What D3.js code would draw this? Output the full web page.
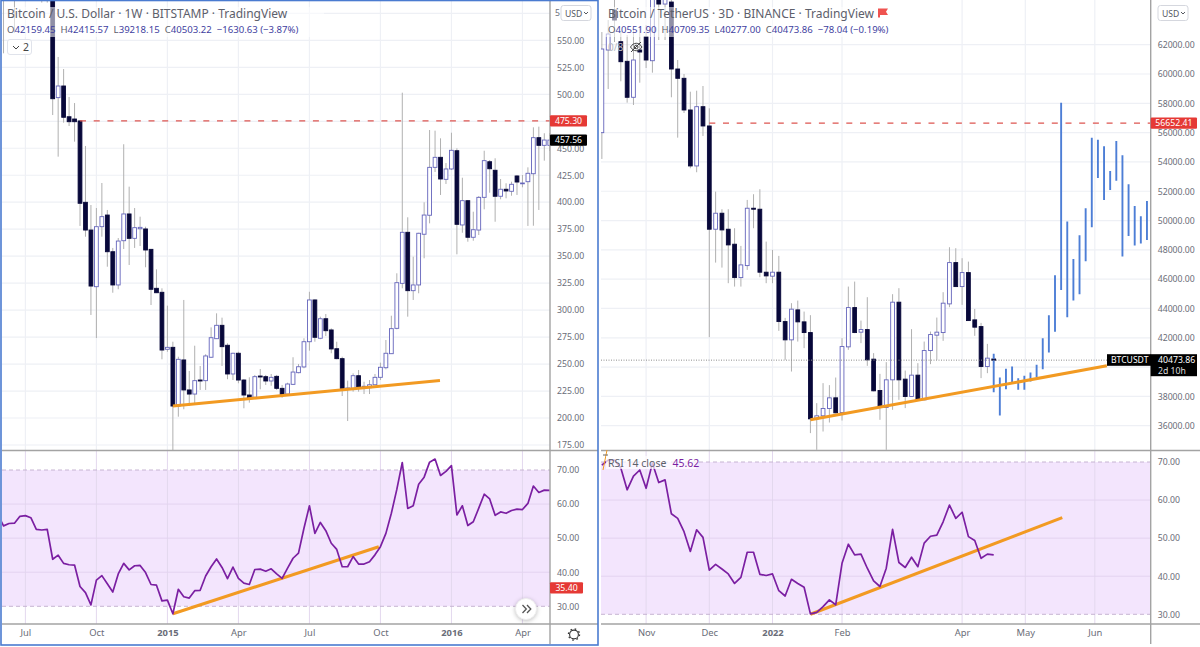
<!DOCTYPE html>
<html>
<head>
<meta charset="utf-8">
<script src="https://cdnjs.cloudflare.com/ajax/libs/d3/7.8.5/d3.min.js"></script>
<style>
  html, body { margin: 0; padding: 0; background: #fff; }
  svg { display: block; }
  text { font-family: "Noto Sans", sans-serif; }
</style>
</head>
<body>
<svg id="chart" width="1200" height="647"></svg>
<script>
// left chart, BTC/USD weekly, bar index 0 is the first candle under the 2014 high
const leftFirstBar = -10;
const leftOpen = [630,600,635,600,640,645,650,640,620,610,
  610,496.9,507.7,479.2,477.1,475.3,399.9,374.2,321.7,377.3,
  388.1,354.1,323.3,364.3,389.1,366.5,375.4,375.2,356.3,320.2,
  316.5,263.7,265.5,211.1,253.8,226,222.2,235.2,234.6,256.3,
  273.5,285.9,267.4,240.8,260,235.2,221.3,219.2,238.9,238.3,
  234.3,238.6,227.5,222.2,231.2,242,247.3,270.7,309.4,273.9,
  292,281.6,264.2,255,227.3,227.5,239.2,228.7,228.1,230.8,
  237.7,246.6,259.6,283.1,324.8,372.1,318,323.3,370.3,387.9,
  432.3,441.6,421.2,430.8,447.7,378.9,401.4,367.5,374.2,404.5,
  437.5,429.6,405.5,412,410.1,424.3,417.4,419,426.4,459.8,
  452.7,452.7];
const leftClose = [620,620,625,620,630,635,640,630,605,600,
  495.9,507.7,478.7,474.6,474.6,399,374.2,322.3,377.3,386.6,
  354.1,323.3,364,389.1,366.5,376.4,376.7,355.7,319.3,316.1,
  263,265.5,211.1,254.4,226,222.2,234.6,234.3,257.5,274.4,
  285.9,266.1,240.8,260,235.2,221.3,218.8,238.3,238,234.3,
  237.7,227.5,222,231.5,242.6,247.5,270.7,309.4,274.8,292,
  280.9,264,255,227.5,227.8,239.2,228.1,229.4,230.8,237.7,
  247,260,282.8,325.4,372.1,318,323.3,371.2,388.1,432.3,
  441.6,421.5,430.8,448.1,379.5,401.4,367.5,374.5,404.5,438.5,
  431,405.5,412,410.4,416.6,418.7,417.8,426.8,459.8,452.7,
  457.6,457.56];
const leftHigh = [660,660,660,660,660,660,660,660,660,660,
  660,534.6,523.4,497.5,491.9,476,452.1,397.4,394.6,417.8,
  392.8,357.6,366.8,453.7,414.4,394.6,386.6,377.3,356.6,337.8,
  320.2,304.1,270.7,256.8,309.4,243.6,267,248.2,259.1,284,
  297,293,269.2,260.5,261.4,236.1,237.7,239.9,245.4,239.9,
  240.8,239.9,230.6,232.7,256.3,250,273.9,317,310,293.9,
  296.4,283.1,270.7,256.8,234.6,241.4,244.5,233.6,235.2,240.8,
  251.3,272.3,294.8,334.1,501.5,386,349.5,371.7,399.9,466.9,
  466.3,459.2,436.3,464.4,450,422.7,402,391.2,405.7,447.7,
  439.1,440.7,421.5,417.5,419,425.2,425.2,432.3,469.4,470,
  463.9,464];
const leftLow = [610,538,605,557,615,620,625,610,585,585,
  480.8,442.2,473.7,470.6,456.1,378,368,295.5,274.1,368,
  340.2,316.1,319.3,356.6,341.8,357.6,359.4,339.7,304.7,315.8,
  254.4,261.4,170.3,201.2,208.1,211.1,213.9,226,226,255.6,
  273.2,248.2,235.9,235.2,232.2,209,214.2,218.5,226.6,230.6,
  229.9,226,218.8,220.4,230.6,241.4,246.1,262.4,270.7,273,
  276,260,254.4,220.4,197.2,224.4,224.4,222.2,222.2,230.6,
  235.2,245.1,259.3,282.2,320.2,293.9,309.4,315.6,348,380.4,
  428,406.7,416.9,429.8,351.7,371.7,363.4,364.3,369.6,393.4,
  408.8,381.9,402.7,403.6,406,406.7,413.8,378,378.2,392.8,
  438.5,447.4];
const leftRsi = [56.8,53.6,54.3,54.4,56.4,56.6,56,52.6,52.4,52.6,
  43.8,45,42.6,42.2,42.1,35.8,34,30.4,37.7,39,
  36.6,34.2,39.5,42.6,40.7,41.9,42,39.9,36.4,36.2,
  31.6,31.8,27.8,35,32.8,32.4,34.6,34.7,38.9,41.6,
  43.9,41.4,38.1,41.5,38.2,36.8,36.4,40.8,40.9,40.3,
  41,39.5,38.2,41.2,44.1,45.6,52.9,59.5,51.4,54.6,
  52.2,48.5,46.7,41.6,41.6,44.6,42.4,42.4,43.1,45.1,
  47.5,51.4,57.3,64.3,72.2,58.7,59.5,65.8,67.9,72.3,
  73.2,68.4,69.6,71.3,56.8,59.5,53.7,54.8,58.8,62.9,
  61.5,56.7,57.7,57.3,58.1,58.5,58.4,60.2,65.3,63.4,
  64.1,64];
const leftPriceTicks = d3.range(175, 576, 25);
const leftHiddenLabels = [475, 575]; // sit under the red tag and the USD pill
const leftTimeBars = [-5, 8, 21, 34, 47, 60, 73, 86];
const leftTimeLabels = ['Jul', 'Oct', '2015', 'Apr', 'Jul', 'Oct', '2016', 'Apr'];
const leftTrend = [[22, 211.1], [70.9, 234.8]];
const leftRsiTrend = [[22, 27.8], [59.7, 47.5]];

// right chart, BTC/USDT 3 day
const rightFirstBar = -17;
const rightOpen = [55996,61636,64364,62202,60865,58410,61636,62543,60906,65319,
  64773,64910,60340,59706,57544,53725,57769,56453,49408,50499,
  49408,48385,46107,46925,50840,50772,46475,46203,46475,43106,
  41858,43904,43086,42356,36470,36675,37173,37902,36900,41381,
  44061,42383,42561,40542,38400,37241,39130,44429,39178,37992,
  39450,37766,41128,42178,42356,44313,47130,45493,46448,43222,
  42765,40037,40551.9];
const rightClose = [61704,62727,63682,60838,58410,60954,61500,60954,65182,64773,
  65182,60340,59706,57544,53725,57769,56453,49408,50499,49360,
  48337,46107,46973,50840,50772,46475,46223,46475,43106,41858,
  43952,43086,42356,36470,36675,37173,37902,36879,41401,44061,
  42356,42561,40494,38380,37241,39130,44429,39130,37992,39450,
  37766,41128,42220,42383,44361,47130,45493,46448,43174,42724,
  40037,40610,40473.86];
const rightHigh = [62864,63682,65600,62864,62659,63000,63205,63341,65600,65600,
  65600,65600,60954,60000,58792,58860,59181,57660,51972,50772,
  50772,49476,48269,51406,51795,52136,48562,47996,47587,43358,
  44361,44538,43788,43542,37541,38905,38769,39287,41974,45493,
  45834,43174,44770,40951,39539,40338,44975,45384,39764,42588,
  40269,41742,42424,43379,45111,48180,48112,47430,47198,43972,
  43017,41585,40709.35];
const rightLow = [54202,58976,62182,59501,58042,57885,59406,60408,60088,62318,
  62318,58410,55655,57339,53568,53295,55771,42042,47130,46789,
  45725,45493,45493,46632,49476,46134,45725,45725,42472,40494,
  39696,41742,41292,35495,34356,35604,36218,36845,36354,41176,
  42315,41633,40085,38346,36402,34356,37084,37766,37200,37971,
  37732,37732,40201,40494,41790,44088,45473,44245,43154,42131,
  39246,39586,40277];
const rightRsi = [69.2,70.5,70.5,68.4,62.7,66.3,67.9,63.1,69.7,64.6,
  65.3,56.4,55.2,51.7,46.5,52.2,50.2,41.6,43.1,41.9,
  40.6,38.1,39.7,46.3,46.3,40.5,40.2,40.6,36.2,34.8,
  39.2,38.1,37.1,30.1,30.5,32,33.8,32.5,43.4,48.4,
  45.6,45.8,42.1,38.8,37.3,42.1,52.3,43.6,42.3,45,
  42.5,48.7,50.5,50.8,54.3,58.7,55.2,56.8,50.4,49.4,
  44.7,45.8,45.6];
// the blue projected bars, high and low only
const projHigh = [40903,39287,39880,40037,39246,39403,39628,40153,41974,43543,
  46270,58042,49926,47382,48999,50840,55655,55519,55068,53384,
  55430,54455,52477,50997,50294,51338];
const projLow = [38291,36695,38496,38857,38448,38448,39014,39314,39860,40992,
  42404,45268,43406,44538,44975,47225,49544,52906,51406,52088,
  52722,47539,48951,48289,48426,48678];
const projStep = 0.97;
const rightPriceTicks = d3.range(36000, 62001, 2000);
const rightHiddenLabels = [40000]; // under the BTCUSDT tag
const rightTimeBars = [-10, 0, 10, 21, 40, 50, 61];
const rightTimeLabels = ['Nov', 'Dec', '2022', 'Feb', 'Apr', 'May', 'Jun'];
const rightTrend = [[16, 36402], [62.9, 40085]];
const rightRsiTrend = [[16, 30], [55.85, 55.4]];
const rsiTicks = [30, 40, 50, 60, 70];

const W = 1200, H = 647;
const COL_DOWN = '#08083a', COL_UP = '#6464bc', COL_WICK = '#b0b0b0';
const COL_GRID = '#eef0f5', COL_BAND = '#f3e5fd', COL_RSI = '#7b1fa2';
const COL_TREND = '#f29a22', COL_RED = '#e53935', COL_LINE = '#a3a3a3';
const COL_TEXT = '#5d606b', COL_VAL = '#3f3f9f';
const AXIS_FONT = 8.7;

const svg = d3.select('#chart');
const defs = svg.append('defs');
const fmt = d3.format('.2f');

function addClip(id, x, y, w, h) {
  defs.append('clipPath').attr('id', id).append('rect')
    .attr('x', x).attr('y', y).attr('width', w).attr('height', h);
}

// one chart = price pane + rsi pane + time axis
function drawPanel(o) {
  const { x, y, yRsi, left, axisX, paneTop, paneBottom, rsiBottom, right, id } = o;
  addClip(id + 'Price', left, paneTop, axisX - left, paneBottom - paneTop);
  addClip(id + 'Rsi', left, paneBottom, axisX - left, rsiBottom - paneBottom);

  const g = svg.append('g');

  // rsi band
  g.append('rect')
    .attr('x', left).attr('width', axisX - left)
    .attr('y', yRsi(70)).attr('height', yRsi(30) - yRsi(70))
    .attr('fill', COL_BAND);

  // grid
  g.selectAll('.hgrid').data(o.priceTicks).join('line')
    .attr('x1', left).attr('x2', axisX)
    .attr('y1', d => y(d)).attr('y2', d => y(d))
    .attr('stroke', COL_GRID).attr('stroke-width', 1.2);
  g.selectAll('.vgrid').data(o.timeBars).join('line')
    .attr('x1', d => x(d)).attr('x2', d => x(d))
    .attr('y1', paneTop).attr('y2', paneBottom)
    .attr('stroke', COL_GRID).attr('stroke-width', 1.2);
  g.selectAll('.vgridr').data(o.timeBars).join('line')
    .attr('x1', d => x(d)).attr('x2', d => x(d))
    .attr('y1', paneBottom).attr('y2', rsiBottom)
    .attr('stroke', '#e3d8ee').attr('stroke-width', 1);
  g.selectAll('.rgrid').data([40, 50, 60]).join('line')
    .attr('x1', left).attr('x2', axisX)
    .attr('y1', d => yRsi(d)).attr('y2', d => yRsi(d))
    .attr('stroke', '#e3d3f0').attr('stroke-width', 1);
  g.selectAll('.rband').data([30, 70]).join('line')
    .attr('x1', left).attr('x2', axisX)
    .attr('y1', d => yRsi(d)).attr('y2', d => yRsi(d))
    .attr('stroke', '#c6b4d2').attr('stroke-dasharray', '4 3');

  // candles
  const bars = o.open.map((v, i) => ({
    i: i + o.firstBar, o: v, c: o.close[i], h: o.high[i], l: o.low[i]
  }));
  const cg = g.append('g').attr('clip-path', `url(#${id}Price)`);
  cg.selectAll('.wick').data(bars).join('line')
    .attr('x1', d => x(d.i)).attr('x2', d => x(d.i))
    .attr('y1', d => y(d.h)).attr('y2', d => y(d.l))
    .attr('stroke', COL_WICK).attr('stroke-width', 1);
  cg.selectAll('.body').data(bars).join('rect')
    .attr('x', d => x(d.i) - 1.9).attr('width', 3.8)
    .attr('y', d => y(Math.max(d.o, d.c)))
    .attr('height', d => Math.max(0.8, Math.abs(y(d.o) - y(d.c))))
    .attr('fill', d => d.c >= d.o ? '#fff' : COL_DOWN)
    .attr('stroke', d => d.c >= d.o ? COL_UP : COL_DOWN)
    .attr('stroke-width', 0.9);

  if (o.proj) {
    const px = i => x(o.proj.start + i * projStep);
    cg.selectAll('.proj').data(o.proj.high).join('line')
      .attr('x1', (d, i) => px(i)).attr('x2', (d, i) => px(i))
      .attr('y1', d => y(d)).attr('y2', (d, i) => y(o.proj.low[i]))
      .attr('stroke', '#4d7ed6').attr('stroke-width', 1.9);
    // the live bar sits on top of the first blue one
    cg.append('rect')
      .attr('x', x(45) - 2).attr('width', 4)
      .attr('y', y(40551.9)).attr('height', 1.2)
      .attr('fill', COL_DOWN);
  }

  // dotted last price line
  if (o.lastPrice) {
    cg.append('line')
      .attr('x1', left).attr('x2', o.lastPriceEnd)
      .attr('y1', y(o.lastPrice)).attr('y2', y(o.lastPrice))
      .attr('stroke', '#8c8c8c').attr('stroke-dasharray', '1 1.5');
  }

  // horizontal level
  cg.append('line')
    .attr('x1', x(o.levelFrom)).attr('x2', axisX)
    .attr('y1', y(o.level)).attr('y2', y(o.level))
    .attr('stroke', '#dd5550').attr('stroke-width', 1.2)
    .attr('stroke-dasharray', '6 7.7');

  // trend line on price
  const tline = d3.line().x(d => x(d[0]));
  cg.append('path')
    .attr('d', tline.y(d => y(d[1]))(o.trend))
    .attr('fill', 'none').attr('stroke', COL_TREND).attr('stroke-width', 3.1);

  // rsi
  const rg = g.append('g').attr('clip-path', `url(#${id}Rsi)`);
  rg.append('path')
    .attr('d', tline.y(d => yRsi(d[1]))(o.rsiTrend))
    .attr('fill', 'none').attr('stroke', COL_TREND).attr('stroke-width', 3.1);
  rg.append('path')
    .attr('d', d3.line().x((d, i) => x(i + o.rsiFirstBar)).y(d => yRsi(d))(o.rsi))
    .attr('fill', 'none').attr('stroke', COL_RSI).attr('stroke-width', 1.7)
    .attr('stroke-linejoin', 'round');

  // pane frame
  g.append('line').attr('x1', left).attr('x2', right)
    .attr('y1', paneBottom).attr('y2', paneBottom)
    .attr('stroke', COL_LINE).attr('stroke-width', 1.4);
  g.append('line').attr('x1', left).attr('x2', right)
    .attr('y1', rsiBottom).attr('y2', rsiBottom)
    .attr('stroke', COL_LINE).attr('stroke-width', 1.4);
  g.append('line').attr('x1', axisX).attr('x2', axisX)
    .attr('y1', 0).attr('y2', 644)
    .attr('stroke', COL_LINE).attr('stroke-width', 1.4);

  // axes
  const styleAxis = a => {
    a.select('.domain').remove();
    a.selectAll('.tick line').remove();
    a.selectAll('text').attr('fill', '#6a6d78').style('font-size', AXIS_FONT + 'px');
  };
  g.append('g').attr('transform', `translate(${axisX},0)`)
    .call(d3.axisRight(y)
      .tickValues(o.priceTicks.filter(d => !o.hiddenLabels.includes(d)))
      .tickFormat(fmt).tickSize(0).tickPadding(7))
    .call(styleAxis);
  g.append('g').attr('transform', `translate(${axisX},0)`)
    .call(d3.axisRight(yRsi).tickValues(rsiTicks).tickFormat(fmt).tickSize(0).tickPadding(7))
    .call(styleAxis);
  g.append('g').attr('transform', `translate(0,${rsiBottom})`)
    .call(d3.axisBottom(x).tickValues(o.timeBars)
      .tickFormat((d, i) => o.timeLabels[i]).tickSize(0).tickPadding(5))
    .call(styleAxis)
    .selectAll('text')
    .style('font-size', '9.4px')
    .attr('font-weight', (d, i) => /^\d+$/.test(o.timeLabels[i]) ? 700 : 400);

  // usd pill
  g.append('rect').attr('x', o.usdX).attr('y', 5.5).attr('width', 30).attr('height', 15)
    .attr('rx', 2.5).attr('fill', '#fff').attr('stroke', '#d5d7de');
  g.append('text').attr('x', o.usdX + 4).attr('y', 16.5)
    .attr('font-size', 8.6).attr('fill', '#55585f').text('USD');
  g.append('path').attr('d', `M${o.usdX + 23} 12l2 2 2-2`)
    .attr('fill', 'none').attr('stroke', '#55585f');

  // price tags
  tag(axisX, y(o.level), o.tagW, COL_RED, fmt(o.level));
  return g;
}

function tag(x0, yc, w, col, label) {
  svg.append('rect').attr('x', x0).attr('y', yc - 5.6)
    .attr('width', w).attr('height', 11.2).attr('fill', col).attr('rx', 1);
  svg.append('text').attr('x', x0 + w / 2).attr('y', yc + 3.2)
    .attr('text-anchor', 'middle').attr('font-size', AXIS_FONT).attr('fill', '#fff').text(label);
}

function legend(x0, title, vals, change) {
  svg.append('rect').attr('x', x0 - 3).attr('y', 7)
    .attr('width', title.length * 6 + 14).attr('height', 30)
    .attr('fill', '#fff').attr('opacity', 0.55);
  svg.append('text').attr('x', x0).attr('y', 18)
    .attr('font-size', 12).attr('fill', COL_TEXT).text(title);
  const t = svg.append('text').attr('x', x0).attr('y', 32.5).attr('font-size', 9.6);
  vals.forEach(d => {
    t.append('tspan').attr('fill', COL_TEXT).attr('dx', d[0] === 'O' ? 0 : 5).text(d[0]);
    t.append('tspan').attr('fill', COL_VAL).text(d[1]);
  });
  t.append('tspan').attr('fill', COL_VAL).attr('dx', 5).text(change);
}

const xLeft = d3.scaleLinear().domain([0, 90]).range([52.7, 544.3]);
const yLeft = d3.scaleLinear().domain([200, 500]).range([418, 94.3]);
const yLeftRsi = d3.scaleLinear().domain([30, 70]).range([606.3, 470]);

drawPanel({
  id: 'left', x: xLeft, y: yLeft, yRsi: yLeftRsi,
  left: 2, axisX: 550, right: 598, paneTop: 0, paneBottom: 450.5, rsiBottom: 624,
  open: leftOpen, close: leftClose, high: leftHigh, low: leftLow, firstBar: leftFirstBar,
  rsi: leftRsi, rsiFirstBar: leftFirstBar,
  priceTicks: leftPriceTicks, hiddenLabels: leftHiddenLabels,
  timeBars: leftTimeBars, timeLabels: leftTimeLabels,
  trend: leftTrend, rsiTrend: leftRsiTrend,
  level: 475.3, levelFrom: 5, tagW: 37, usdX: 561
});

const xRight = d3.scaleLinear().domain([0, 45]).range([709.3, 993.7]);
const yRight = d3.scaleLinear().domain([38000, 58000]).range([396.4, 103.3]);
const yRightRsi = d3.scaleLinear().domain([30, 70]).range([614.3, 462]);

drawPanel({
  id: 'right', x: xRight, y: yRight, yRsi: yRightRsi,
  left: 601, axisX: 1150.7, right: 1200, paneTop: 0, paneBottom: 450.5, rsiBottom: 624,
  open: rightOpen, close: rightClose, high: rightHigh, low: rightLow, firstBar: rightFirstBar,
  rsi: rightRsi, rsiFirstBar: rightFirstBar,
  priceTicks: rightPriceTicks, hiddenLabels: rightHiddenLabels,
  timeBars: rightTimeBars, timeLabels: rightTimeLabels,
  trend: rightTrend, rsiTrend: rightRsiTrend,
  level: 56652.41, levelFrom: 0, tagW: 46.3, usdX: 1158,
  proj: { start: 45, high: projHigh, low: projLow },
  lastPrice: 40473.86, lastPriceEnd: 1107
});

// left chart extras
tag(550, yLeft(457.56), 37, '#000', '457.56');
tag(550, yLeftRsi(35.4), 33, COL_RED, '35.40');
// what shows of the 575.00 label next to the pill
svg.append('text').attr('x', 555).attr('y', 16).attr('font-size', AXIS_FONT).attr('fill', '#6a6d78').text('5');

legend(7, 'Bitcoin / U.S. Dollar · 1W · BITSTAMP · TradingView',
  [['O', '42159.45'], ['H', '42415.57'], ['L', '39218.15'], ['C', '40503.22']],
  '−1630.63 (−3.87%)');

svg.append('rect').attr('x', 7.5).attr('y', 39.5).attr('width', 24).attr('height', 15)
  .attr('rx', 2.5).attr('fill', '#fff').attr('stroke', '#e0e3eb');
svg.append('path').attr('d', 'M13 46l3 3 3-3').attr('fill', 'none').attr('stroke', '#444');
svg.append('text').attr('x', 23).attr('y', 51).attr('font-size', 10.5).attr('fill', '#444').text('2');

// scroll button and settings gear
svg.append('circle').attr('cx', 526).attr('cy', 609).attr('r', 10.5)
  .attr('fill', '#fff').attr('stroke', '#eee').style('filter', 'drop-shadow(0 1px 2px rgba(0,0,0,.25))');
svg.append('path').attr('d', 'M522.5 605l3.8 4-3.8 4M527 605l3.8 4-3.8 4')
  .attr('fill', 'none').attr('stroke', '#555').attr('stroke-width', 1.3);
svg.append('circle').attr('cx', 574).attr('cy', 634.5).attr('r', 4.4)
  .attr('fill', 'none').attr('stroke', '#333').attr('stroke-width', 1.1);
svg.append('circle').attr('cx', 574).attr('cy', 634.5).attr('r', 5.6)
  .attr('fill', 'none').attr('stroke', '#333').attr('stroke-width', 1.2).attr('stroke-dasharray', '1.6 2.8');

// right chart extras
legend(608, 'Bitcoin / TetherUS · 3D · BINANCE · TradingView',
  [['O', '40551.90'], ['H', '40709.35'], ['L', '40277.00'], ['C', '40473.86']],
  '−78.04 (−0.19%)');
svg.append('path').attr('d', 'M878 8.5h10l-2 3.2 2 3.2h-8v2.6h-2z').attr('fill', '#ef5350');

svg.append('text').attr('x', 608).attr('y', 51).attr('font-size', 10).attr('fill', '#b8bac2').text('0/8');
svg.append('path').attr('d', 'M630.5 47c3-5 8.5-5 11.5 0-3 5-8.5 5-11.5 0z')
  .attr('fill', 'none').attr('stroke', '#444');
svg.append('circle').attr('cx', 636.2).attr('cy', 47).attr('r', 1.8)
  .attr('fill', 'none').attr('stroke', '#444');
svg.append('line').attr('x1', 631).attr('y1', 52).attr('x2', 641).attr('y2', 42).attr('stroke', '#444');

svg.append('rect').attr('x', 1107).attr('y', 354.2).attr('width', 44).attr('height', 11.6).attr('fill', '#000');
svg.append('text').attr('x', 1111).attr('y', 363.2)
  .attr('font-size', 8.6).attr('fill', '#fff').text('BTCUSDT');
svg.append('rect').attr('x', 1150.7).attr('y', 354.2).attr('width', 46.3).attr('height', 22).attr('fill', '#000');
svg.append('text').attr('x', 1158).attr('y', 363.2).attr('font-size', AXIS_FONT).attr('fill', '#fff').text('40473.86');
svg.append('text').attr('x', 1158).attr('y', 373.6).attr('font-size', AXIS_FONT).attr('fill', '#ddd').text('2d 10h');

// rsi legend and the cut trend stub next to it
svg.append('path').attr('d', 'M603 470l4-20').attr('stroke', COL_TREND).attr('fill', 'none');
svg.append('path').attr('d', 'M603 455h5').attr('stroke', '#666').attr('fill', 'none');
svg.append('rect').attr('x', 606).attr('y', 456).attr('width', 90).attr('height', 13)
  .attr('fill', '#fff').attr('opacity', 0.7);
const rsiLegend = svg.append('text').attr('x', 608).attr('y', 466.5).attr('font-size', 10.5);
rsiLegend.append('tspan').attr('fill', COL_TEXT).text('RSI 14 close');
rsiLegend.append('tspan').attr('fill', COL_RSI).attr('dx', 6).text('45.62');

// active chart frame, blue
svg.append('rect').attr('x', 1).attr('y', 0.5).attr('width', 597).attr('height', 644.5)
  .attr('fill', 'none').attr('stroke', '#4a7bd0').attr('stroke-width', 1.6);
</script>
</body>
</html>
